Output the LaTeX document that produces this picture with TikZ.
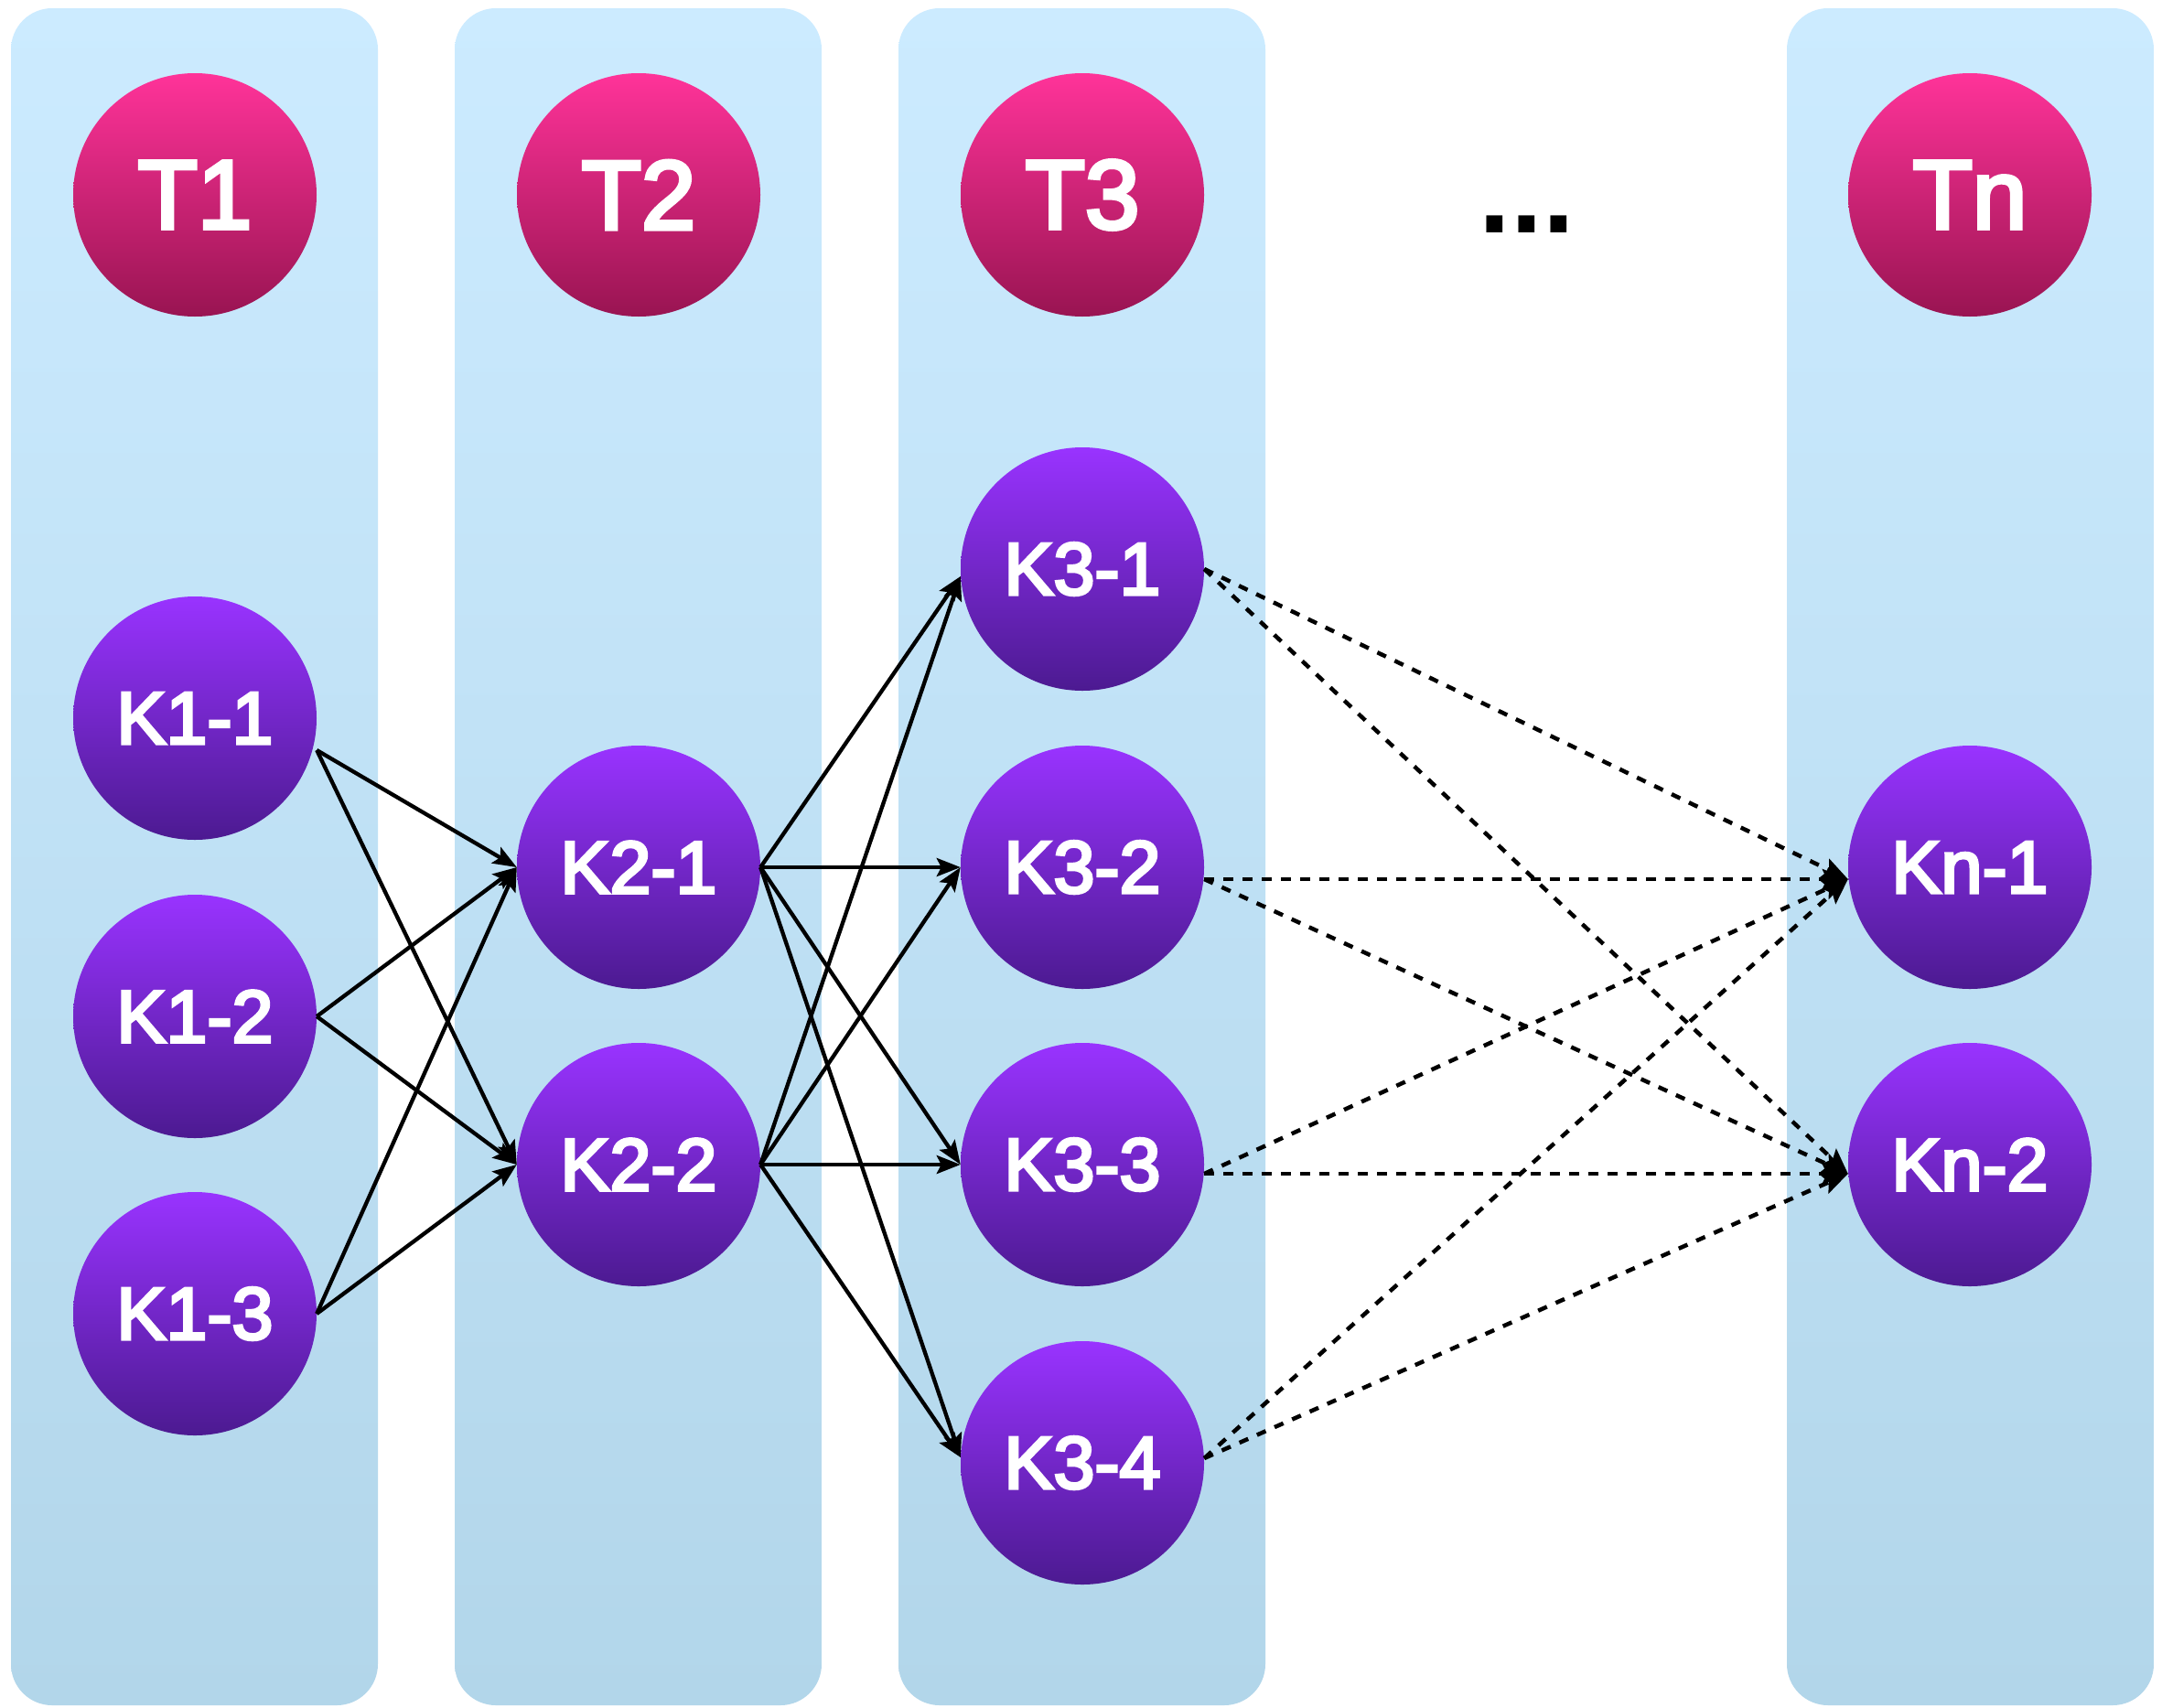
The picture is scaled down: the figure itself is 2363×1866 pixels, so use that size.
\documentclass[tikz,border=0pt]{standalone}
\usepackage{fontspec}
\setmainfont{Liberation Sans}
\newfontfamily\labelfont[FakeBold=4]{Liberation Sans}
\usetikzlibrary{arrows.meta}

\definecolor{laneTop}{RGB}{204,235,255}
\definecolor{laneBot}{RGB}{178,214,234}
\definecolor{pinkTop}{RGB}{255,51,153}
\definecolor{pinkBot}{RGB}{153,20,82}
\definecolor{purpTop}{RGB}{153,51,255}
\definecolor{purpBot}{RGB}{76,26,145}

\begin{document}
\begin{tikzpicture}[x=1pt,y=-1pt,
  lane/.style={top color=laneTop,bottom color=laneBot,draw=none,rounded corners=45pt},
  tnode/.style={circle,minimum size=266pt,inner sep=0pt,top color=pinkTop,bottom color=pinkBot,
    text=white,font=\labelfont\fontsize{107}{107}\selectfont},
  knode/.style={circle,minimum size=266pt,inner sep=0pt,top color=purpTop,bottom color=purpBot,
    text=white,font=\labelfont\fontsize{81}{81}\selectfont},
  link/.style={line width=4.3pt,-{Stealth[length=26pt,width=20pt,inset=5pt]}},
  dlink/.style={line width=4.5pt,dash pattern=on 10.5pt off 10.5pt,
    -{Stealth[length=28pt,width=22pt,inset=5pt]}}
]
% canvas
\fill[white] (0,0) rectangle (2363,1866);
\useasboundingbox (0,0) rectangle (2363,1866);

% lanes
\shade[lane] (12,9) rectangle (413,1864);
\shade[lane] (497,9) rectangle (898,1864);
\shade[lane] (982,9) rectangle (1383,1864);
\shade[lane] (1953,9) rectangle (2354,1864);

% tables
\node[tnode] (T1) at (213,213) {T1};
\node[tnode] (T2) at (698,213) {T2};
\node[tnode] (T3) at (1183,213) {T3};
\node[tnode] (Tn) at (2153,213) {Tn};
\node[font=\fontsize{125}{125}\selectfont\bfseries,inner sep=0pt] (dots) at (1669,245) {...};

% keys
\node[knode] (K11) at (213,785) {K1-1};
\node[knode] (K12) at (213,1111) {K1-2};
\node[knode] (K13) at (213,1436) {K1-3};
\node[knode] (K21) at (698,948) {K2-1};
\node[knode] (K22) at (698,1273) {K2-2};
\node[knode] (K31) at (1183,622) {K3-1};
\node[knode] (K32) at (1183,948) {K3-2};
\node[knode] (K33) at (1183,1273) {K3-3};
\node[knode] (K34) at (1183,1599) {K3-4};
\node[knode] (Kn1) at (2153,948) {Kn-1};
\node[knode] (Kn2) at (2153,1273) {Kn-2};

% level 1 -> level 2
\draw[link] ([yshift=-35pt]K11.east) -- (K21.west);
\draw[link] ([yshift=-35pt]K11.east) -- (K22.west);
\draw[link] (K12.east) -- (K21.west);
\draw[link] (K12.east) -- (K22.west);
\draw[link] (K13.east) -- (K21.west);
\draw[link] (K13.east) -- (K22.west);

% level 2 -> level 3
\foreach \s in {K21,K22}{
  \draw[link] (\s.east) -- ([yshift=-8pt]K31.west);
  \draw[link] (\s.east) -- (K32.west);
  \draw[link] (\s.east) -- (K33.west);
  \draw[link] (\s.east) -- ([yshift=6pt]K34.west);
}

% level 3 -> level n
\coordinate (s1) at (K31.east);
\coordinate (s2) at ([yshift=-13pt]K32.east);
\coordinate (s3) at ([yshift=-10pt]K33.east);
\coordinate (s4) at ([yshift=5pt]K34.east);
\coordinate (e1) at ([yshift=-13pt]Kn1.west);
\coordinate (e2) at ([yshift=-10pt]Kn2.west);
\foreach \s in {s1,s2,s3,s4}{
  \draw[dlink] (\s) -- (e1);
  \draw[dlink] (\s) -- (e2);
}
\end{tikzpicture}
\end{document}
